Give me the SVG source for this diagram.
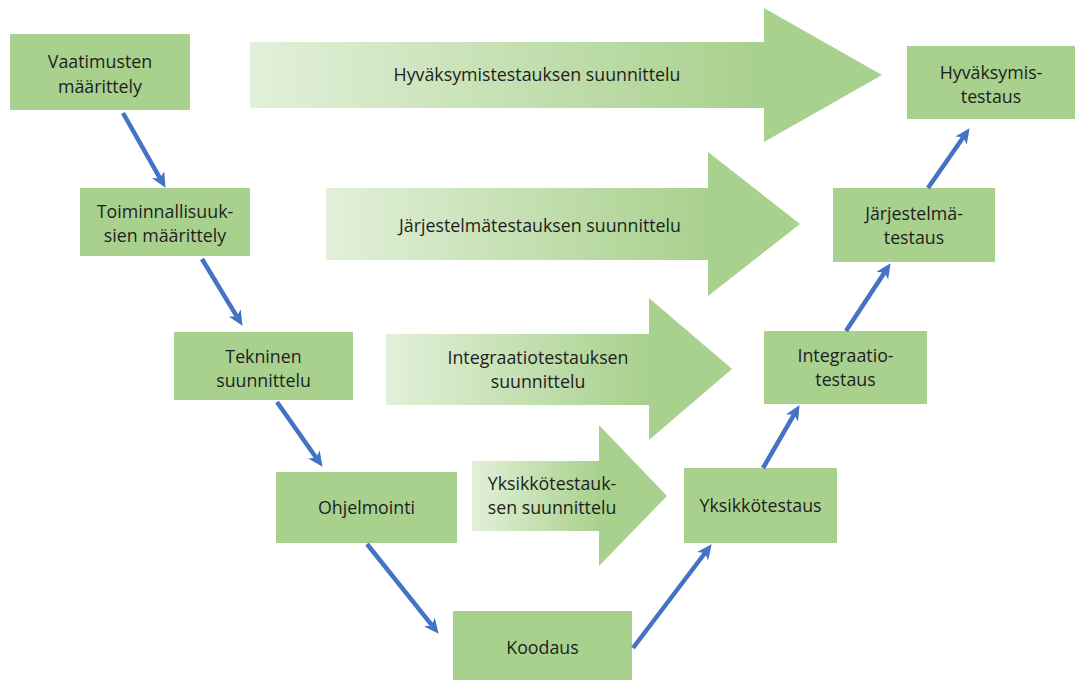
<svg xmlns="http://www.w3.org/2000/svg" width="1081" height="682" viewBox="0 0 1081 682">
<style>
.box{fill:#a9d18e}
.big{stroke:none}
text{font-family:"Open Sans","Noto Sans","DejaVu Sans",sans-serif;font-size:17.8px;fill:#1e1e1e;text-anchor:middle}
.conn{stroke:#4472c4;stroke-width:4.5;fill:none;marker-end:url(#ah)}
</style>
<defs>
<linearGradient id="g1" x1="0" y1="0" x2="1" y2="0"><stop offset="0" stop-color="#e2f0d9"/><stop offset="0.8" stop-color="#a9d18e"/></linearGradient>
<linearGradient id="g3" x1="0" y1="0" x2="1" y2="0"><stop offset="0" stop-color="#e2f0d9"/><stop offset="0.75" stop-color="#a9d18e"/></linearGradient>
<linearGradient id="g4" x1="0" y1="0" x2="1" y2="0"><stop offset="0" stop-color="#e2f0d9"/><stop offset="0.65" stop-color="#a9d18e"/></linearGradient>
<marker id="ah" markerUnits="userSpaceOnUse" markerWidth="16" markerHeight="14" viewBox="0 0 16 14" refX="4" refY="7" orient="auto">
<path d="M0,0 L15,7 L0,14 L4,7 z" fill="#4472c4"/>
</marker>
</defs>
<rect width="1081" height="682" fill="#ffffff"/>

<g id="plan-acceptance">
<path class="big" fill="url(#g1)" d="M250,42 H764 V8 L882,75 L764,142 V108 H250 z"/>
<text x="537" y="81">Hyväksymistestauksen suunnittelu</text>
</g>
<g id="plan-system">
<path class="big" fill="url(#g1)" d="M326,188 H708 V152 L800,224 L708,296 V260 H326 z"/>
<text x="540" y="232">Järjestelmätestauksen suunnittelu</text>
</g>
<g id="plan-integration">
<path class="big" fill="url(#g3)" d="M386,334 H649 V298 L732,369 L649,440 V405 H386 z"/>
<text x="538" y="364">Integraatiotestauksen</text>
<text x="538" y="388">suunnittelu</text>
</g>
<g id="plan-unit">
<path class="big" fill="url(#g4)" d="M472,461 H599 V425 L667,496 L599,566 V531 H472 z"/>
<text x="552" y="490">Yksikkötestauk-</text>
<text x="552" y="514">sen suunnittelu</text>
</g>

<g id="n-requirements">
<rect class="box" x="10" y="34" width="180" height="76"/>
<text x="100" y="68">Vaatimusten</text>
<text x="100" y="93">määrittely</text>
</g>
<g id="n-functional">
<rect class="box" x="80" y="188" width="170" height="68"/>
<text x="165" y="218">Toiminnallisuuk-</text>
<text x="165" y="242">sien määrittely</text>
</g>
<g id="n-technical">
<rect class="box" x="174" y="332" width="179" height="68"/>
<text x="263.5" y="363">Tekninen</text>
<text x="263.5" y="387">suunnittelu</text>
</g>
<g id="n-programming">
<rect class="box" x="276" y="472" width="181" height="71"/>
<text x="366.5" y="514">Ohjelmointi</text>
</g>
<g id="n-coding">
<rect class="box" x="453" y="611" width="179" height="69"/>
<text x="542.5" y="654">Koodaus</text>
</g>
<g id="n-unittest">
<rect class="box" x="684" y="468" width="153" height="75"/>
<text x="760.5" y="512">Yksikkötestaus</text>
</g>
<g id="n-integrationtest">
<rect class="box" x="764" y="331" width="163" height="73"/>
<text x="845.5" y="362">Integraatio-</text>
<text x="845.5" y="386">testaus</text>
</g>
<g id="n-systemtest">
<rect class="box" x="833" y="188" width="162" height="74"/>
<text x="914" y="220">Järjestelmä-</text>
<text x="914" y="244">testaus</text>
</g>
<g id="n-acceptancetest">
<rect class="box" x="907" y="46" width="168" height="73"/>
<text x="991" y="79">Hyväksymis-</text>
<text x="991" y="103">testaus</text>
</g>

<g id="connectors">
<line class="conn" x1="123" y1="113" x2="160.1" y2="178.3"/>
<line class="conn" x1="202" y1="259" x2="236.8" y2="316.4"/>
<line class="conn" x1="277" y1="402" x2="316.2" y2="457.8"/>
<line class="conn" x1="367" y1="544" x2="431.8" y2="625.2"/>
<line class="conn" x1="633" y1="648" x2="705.0" y2="553.0"/>
<line class="conn" x1="763" y1="468" x2="794.0" y2="414.6"/>
<line class="conn" x1="846" y1="331" x2="884.5" y2="272.4"/>
<line class="conn" x1="928" y1="188" x2="963.3" y2="137.2"/>
</g>
</svg>
